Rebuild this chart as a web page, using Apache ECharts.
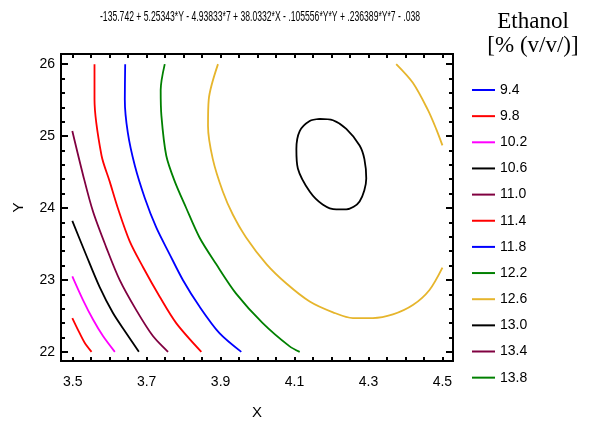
<!DOCTYPE html>
<html>
<head>
<meta charset="utf-8">
<script src="https://cdn.jsdelivr.net/npm/echarts@6/dist/echarts.min.js"></script>
<style>
  html, body { margin: 0; padding: 0; background: #fff; }
  #main { width: 599px; height: 425px; }
</style>
</head>
<body>
<div id="main"></div>
<script>
// 等高线图: 乙醇含量 (X, Y)
const titleText = "-135.742 + 5.25343*Y - 4.93833*7 + 38.0332*X - .105556*Y*Y + .236389*Y*7 - .038";

// 图例级别与颜色
const levels = ["9.4", "9.8", "10.2", "10.6", "11.0", "11.4", "11.8", "12.2", "12.6", "13.0", "13.4", "13.8"];
const levelColors = ["#0000ff", "#ff0000", "#ff00ff", "#000000", "#800040", "#ff0000",
                     "#0000ff", "#008000", "#e6b52c", "#000000", "#800040", "#008000"];

// 刻度
const xTicks = [3.5, 3.55, 3.6, 3.65, 3.7, 3.75, 3.8, 3.85, 3.9, 3.95, 4.0,
                4.05, 4.1, 4.15, 4.2, 4.25, 4.3, 4.35, 4.4, 4.45, 4.5];
const xLabels = [3.5, 3.7, 3.9, 4.1, 4.3, 4.5];
const yMajor = [22, 23, 24, 25, 26];
const yMinor = [22.2, 22.4, 22.6, 22.8, 23.2, 23.4, 23.6, 23.8, 24.2, 24.4, 24.6, 24.8,
                25.2, 25.4, 25.6, 25.8];

// 等高线 (从图中读取的点)
const c98 = [[3.499, 22.47], [3.514, 22.31], [3.532, 22.13], [3.551, 22.0]];
const c102 = [[3.499, 23.05], [3.528, 22.72], [3.555, 22.45], [3.582, 22.22], [3.614, 22.0]];
const c106 = [[3.499, 23.82], [3.537, 23.34], [3.573, 22.90], [3.609, 22.54], [3.645, 22.26], [3.679, 22.0]];
const c110 = [[3.499, 25.07], [3.528, 24.46], [3.555, 23.95], [3.591, 23.45], [3.627, 23.0],
              [3.672, 22.58], [3.717, 22.22], [3.758, 22.0]];
const c114 = [[3.559, 26.0], [3.559, 25.51], [3.578, 24.73], [3.6, 24.37], [3.622, 24.0],
              [3.654, 23.54], [3.69, 23.18], [3.735, 22.77], [3.78, 22.40], [3.848, 22.0]];
const c118 = [[3.642, 26.0], [3.641, 25.51], [3.649, 25.05], [3.668, 24.59], [3.695, 24.14],
              [3.726, 23.73], [3.762, 23.36], [3.798, 23.0], [3.843, 22.63], [3.897, 22.26], [3.956, 22.0]];
const c122 = [[3.749, 26.0], [3.738, 25.64], [3.740, 25.28], [3.753, 24.73], [3.776, 24.37],
              [3.807, 24.0], [3.843, 23.59], [3.888, 23.22], [3.942, 22.81], [4.014, 22.40],
              [4.086, 22.08], [4.114, 22.0]];
const c126a = [[3.893, 26.0], [3.868, 25.51], [3.866, 25.14], [3.879, 24.68], [3.906, 24.23],
               [3.933, 23.91], [3.969, 23.59], [4.024, 23.22], [4.078, 22.95], [4.141, 22.70],
               [4.204, 22.55], [4.258, 22.47], [4.312, 22.47], [4.366, 22.52], [4.42, 22.65],
               [4.465, 22.86], [4.5, 23.17]];
const c126b = [[4.375, 26.0], [4.42, 25.74], [4.46, 25.37], [4.483, 25.10], [4.5, 24.87]];
const c130 = [[4.168, 25.24], [4.204, 25.22], [4.240, 25.10], [4.276, 24.87], [4.289, 24.68],
              [4.294, 24.41], [4.276, 24.09], [4.240, 23.98], [4.213, 23.98], [4.176, 24.05],
              [4.141, 24.23], [4.109, 24.55], [4.105, 24.82], [4.114, 25.07], [4.141, 25.21],
              [4.168, 25.24]];

const contourData = {
    "9.4": [[]], "9.8": [c98], "10.2": [c102], "10.6": [c106], "11.0": [c110], "11.4": [c114],
    "11.8": [c118], "12.2": [c122], "12.6": [c126a, c126b], "13.0": [c130], "13.4": [[]], "13.8": [[]]
};

const labelFont = "'Liberation Sans', Arial, sans-serif";

// 标题按原图宽度压缩
const ctx = document.createElement("canvas").getContext("2d");
ctx.font = "14px 'Liberation Sans'";
const titleScale = 320 / ctx.measureText(titleText).width;

const series = [];
levels.forEach((lv, i) => {
    contourData[lv].forEach(pts => {
        series.push({
            name: lv,
            type: "line",
            data: pts,
            symbol: "none",
            smooth: 0.3,
            lineStyle: { color: levelColors[i], width: 1.8 },
            itemStyle: { color: levelColors[i] },
            xAxisIndex: 0,
            yAxisIndex: 0
        });
    });
});

const xMin = 3.4684, xMax = 4.5286, yMin = 21.873, yMax = 26.141;
const lineBlack = { color: "#000", width: 2 };

function yAx(pos, ticks, len, labels) {
    return {
        type: "value", position: pos, min: yMin, max: yMax,
        axisLine: { show: true, lineStyle: lineBlack },
        axisTick: { show: true, inside: true, length: len, customValues: ticks, lineStyle: { color: "#000", width: 2 } },
        axisLabel: labels ? { customValues: yMajor, margin: 6, fontSize: 14, color: "#000", fontFamily: labelFont } : { show: false },
        splitLine: { show: false }
    };
}

const option = {
    animation: false,
    backgroundColor: "#fff",
    grid: { left: 61, top: 54, right: 146, bottom: 59 },
    graphic: [
        { type: "text", x: 260, y: 17, scaleX: titleScale,
          style: { text: titleText, font: "14px 'Liberation Sans'", fill: "#000", textAlign: "center", textVerticalAlign: "middle" } },
        { type: "text", x: 533, y: 22,
          style: { text: "Ethanol", font: "23px 'Liberation Serif'", fill: "#000", textAlign: "center", textVerticalAlign: "middle" } },
        { type: "text", x: 533, y: 46,
          style: { text: "[% (v/v/)]", font: "23px 'Liberation Serif'", fill: "#000", textAlign: "center", textVerticalAlign: "middle" } }
    ],
    legend: {
        orient: "vertical",
        left: 467,
        top: 78,
        icon: "rect",
        itemWidth: 23,
        itemHeight: 2,
        itemGap: 12.15,
        data: levels,
        textStyle: { fontSize: 14, color: "#000", fontFamily: labelFont }
    },
    xAxis: [
        {
            type: "value", position: "bottom", min: xMin, max: xMax,
            name: "X", nameLocation: "middle", nameGap: 44,
            nameTextStyle: { fontSize: 15, color: "#000", fontFamily: labelFont },
            axisLine: { show: true, lineStyle: lineBlack },
            axisTick: { show: true, inside: true, length: 4, customValues: xTicks, lineStyle: { color: "#000", width: 2 } },
            axisLabel: { customValues: xLabels, margin: 14, fontSize: 14, color: "#000", fontFamily: labelFont },
            splitLine: { show: false }
        },
        {
            type: "value", position: "top", min: xMin, max: xMax,
            axisLine: { show: true, lineStyle: lineBlack },
            axisTick: { show: true, inside: true, length: 4, customValues: xTicks, lineStyle: { color: "#000", width: 2 } },
            axisLabel: { show: false },
            splitLine: { show: false }
        }
    ],
    yAxis: [
        Object.assign(yAx("left", yMajor, 7, true), {
            name: "Y", nameLocation: "middle", nameGap: 35,
            nameTextStyle: { fontSize: 15, color: "#000", fontFamily: labelFont }
        }),
        yAx("left", yMinor, 4, false),
        yAx("right", yMajor, 7, false),
        yAx("right", yMinor, 4, false)
    ],
    series: series
};

const chart = echarts.init(document.getElementById("main"));
chart.setOption(option);
</script>
</body>
</html>
